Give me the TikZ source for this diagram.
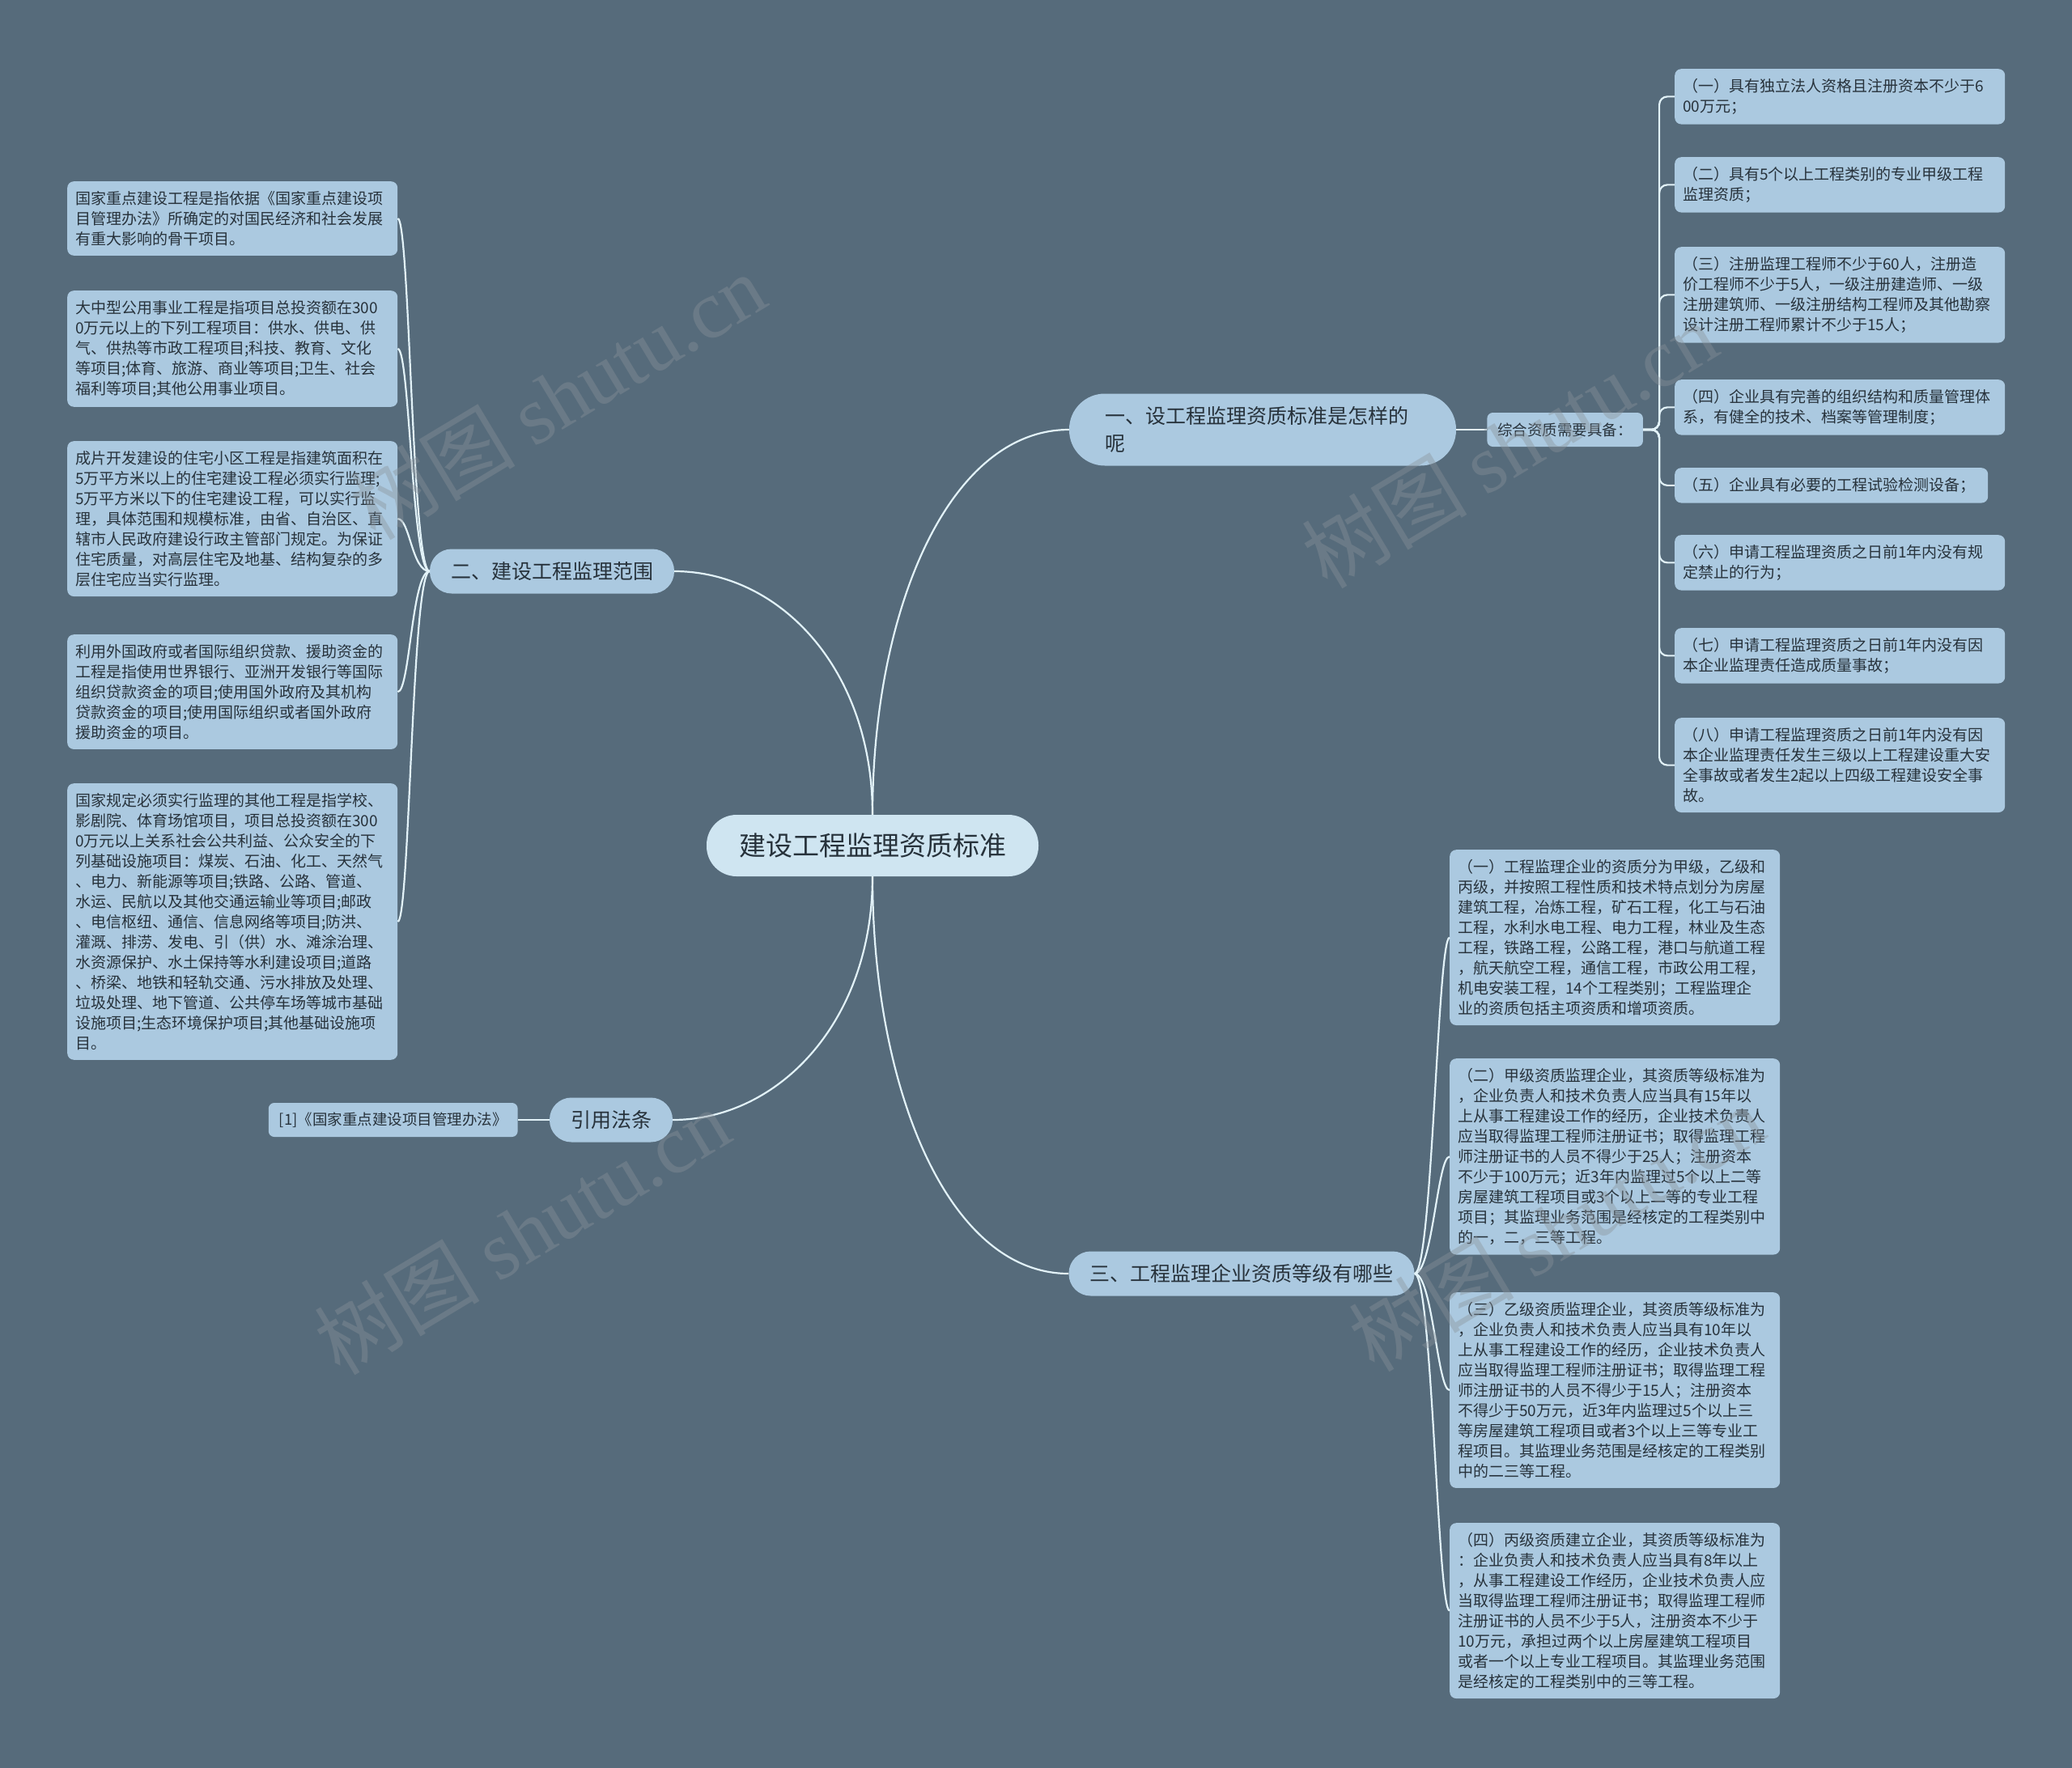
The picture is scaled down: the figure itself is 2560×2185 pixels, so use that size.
\documentclass[tikz,border=0pt]{standalone}
\usepackage{fontspec}
\setmainfont{Noto Sans CJK SC}
\newfontfamily\wmlatin{Liberation Serif}
\usepackage{xcolor}
\usepackage{tikz}
\usetikzlibrary{positioning}
\definecolor{slatebg}{HTML}{566B7B}
\definecolor{boxblue}{HTML}{ABC9E0}
\definecolor{rootblue}{HTML}{CFE5F1}
\definecolor{linkcol}{HTML}{E2F2F8}
\definecolor{inkcol}{HTML}{27323B}
\definecolor{wmgray}{HTML}{8A9299}
\tikzset{
  topic/.style={
    rectangle, rounded corners=37pt,
    fill=rootblue, text=inkcol,
    minimum height=76pt, inner xsep=40pt,
    font=\fontsize{33}{40}\selectfont},
  branch/.style={
    rectangle, rounded corners=27pt,
    fill=boxblue, text=inkcol,
    minimum height=55pt, inner xsep=26pt,
    font=\fontsize{25}{34}\selectfont},
  leaf/.style={
    rectangle, rounded corners=8pt,
    fill=boxblue, text=inkcol,
    text width=#1, align=left,
    inner xsep=10pt, inner ysep=12pt,
    font=\fontsize{19}{25}\selectfont},
  leaf/.default=388pt,
  tag/.style={
    rectangle, rounded corners=7pt,
    fill=boxblue, text=inkcol,
    minimum height=42pt, inner xsep=13pt,
    font=\fontsize{18.5}{22}\selectfont},
  link/.style={draw=linkcol, line width=2.2pt},
  wmark/.style={text=wmgray, opacity=0.4, rotate=31,
    font=\fontsize{102}{110}\selectfont},
}

\begin{document}
\begin{tikzpicture}[x=1pt, y=-1pt]
  \fill[slatebg] (0,0) rectangle (2560,2185);
  \useasboundingbox (0,0) rectangle (2560,2185);

  % centre and main topics
  \node[topic] (root) at (1078,1045) {建设工程监理资质标准};
  \node[branch, text width=390pt, align=left, rounded corners=44pt,
        minimum height=89pt, inner xsep=44pt] (std) at (1560,531)
        {一、设工程监理资质标准是怎样的\\呢};
  \node[branch] (scope) at (682,706) {二、建设工程监理范围};
  \node[branch] (law) at (755,1384) {引用法条};
  \node[branch] (grade) at (1534,1574) {三、工程监理企业资质等级有哪些};

  \node[tag, right=38pt of std] (zh) {综合资质需要具备：};
  \node[tag, left=39pt of law] (cite) {[1]《国家重点建设项目管理办法》};

  % scope leaves
  \node[leaf, anchor=north west] (sc1) at (83,224) {国家重点建设工程是指依据《国家重点建设项\\目管理办法》所确定的对国民经济和社会发展\\有重大影响的骨干项目。};
  \node[leaf, anchor=north west] (sc2) at (83,359) {大中型公用事业工程是指项目总投资额在300\\0万元以上的下列工程项目：供水、供电、供\\气、供热等市政工程项目;科技、教育、文化\\等项目;体育、旅游、商业等项目;卫生、社会\\福利等项目;其他公用事业项目。};
  \node[leaf, anchor=north west] (sc3) at (83,545) {成片开发建设的住宅小区工程是指建筑面积在\\5万平方米以上的住宅建设工程必须实行监理;\\5万平方米以下的住宅建设工程，可以实行监\\理，具体范围和规模标准，由省、自治区、直\\辖市人民政府建设行政主管部门规定。为保证\\住宅质量，对高层住宅及地基、结构复杂的多\\层住宅应当实行监理。};
  \node[leaf, anchor=north west] (sc4) at (83,784) {利用外国政府或者国际组织贷款、援助资金的\\工程是指使用世界银行、亚洲开发银行等国际\\组织贷款资金的项目;使用国外政府及其机构\\贷款资金的项目;使用国际组织或者国外政府\\援助资金的项目。};
  \node[leaf, anchor=north west] (sc5) at (83,968) {国家规定必须实行监理的其他工程是指学校、\\影剧院、体育场馆项目，项目总投资额在300\\0万元以上关系社会公共利益、公众安全的下\\列基础设施项目：煤炭、石油、化工、天然气\\、电力、新能源等项目;铁路、公路、管道、\\水运、民航以及其他交通运输业等项目;邮政\\、电信枢纽、通信、信息网络等项目;防洪、\\灌溉、排涝、发电、引（供）水、滩涂治理、\\水资源保护、水土保持等水利建设项目;道路\\、桥梁、地铁和轻轨交通、污水排放及处理、\\垃圾处理、地下管道、公共停车场等城市基础\\设施项目;生态环境保护项目;其他基础设施项\\目。};

  % qualification leaves
  \node[leaf, anchor=north west] (q1) at (2069,85) {（一）具有独立法人资格且注册资本不少于6\\00万元；};
  \node[leaf, anchor=north west] (q2) at (2069,194) {（二）具有5个以上工程类别的专业甲级工程\\监理资质；};
  \node[leaf, anchor=north west] (q3) at (2069,305) {（三）注册监理工程师不少于60人，注册造\\价工程师不少于5人，一级注册建造师、一级\\注册建筑师、一级注册结构工程师及其他勘察\\设计注册工程师累计不少于15人；};
  \node[leaf, anchor=north west] (q4) at (2069,469) {（四）企业具有完善的组织结构和质量管理体\\系，有健全的技术、档案等管理制度；};
  \node[leaf=367pt, anchor=north west] (q5) at (2069,578) {（五）企业具有必要的工程试验检测设备；};
  \node[leaf, anchor=north west] (q6) at (2069,661) {（六）申请工程监理资质之日前1年内没有规\\定禁止的行为；};
  \node[leaf, anchor=north west] (q7) at (2069,776) {（七）申请工程监理资质之日前1年内没有因\\本企业监理责任造成质量事故；};
  \node[leaf, anchor=north west] (q8) at (2069,887) {（八）申请工程监理资质之日前1年内没有因\\本企业监理责任发生三级以上工程建设重大安\\全事故或者发生2起以上四级工程建设安全事\\故。};

  % grade leaves
  \node[leaf, anchor=north west] (gr1) at (1791,1050) {（一）工程监理企业的资质分为甲级，乙级和\\丙级，并按照工程性质和技术特点划分为房屋\\建筑工程，冶炼工程，矿石工程，化工与石油\\工程，水利水电工程、电力工程，林业及生态\\工程，铁路工程，公路工程，港口与航道工程\\，航天航空工程，通信工程，市政公用工程，\\机电安装工程，14个工程类别；工程监理企\\业的资质包括主项资质和增项资质。};
  \node[leaf, anchor=north west] (gr2) at (1791,1308) {（二）甲级资质监理企业，其资质等级标准为\\，企业负责人和技术负责人应当具有15年以\\上从事工程建设工作的经历，企业技术负责人\\应当取得监理工程师注册证书；取得监理工程\\师注册证书的人员不得少于25人；注册资本\\不少于100万元；近3年内监理过5个以上二等\\房屋建筑工程项目或3个以上二等的专业工程\\项目；其监理业务范围是经核定的工程类别中\\的一，二，三等工程。};
  \node[leaf, anchor=north west] (gr3) at (1791,1597) {（三）乙级资质监理企业，其资质等级标准为\\，企业负责人和技术负责人应当具有10年以\\上从事工程建设工作的经历，企业技术负责人\\应当取得监理工程师注册证书；取得监理工程\\师注册证书的人员不得少于15人；注册资本\\不得少于50万元，近3年内监理过5个以上三\\等房屋建筑工程项目或者3个以上三等专业工\\程项目。其监理业务范围是经核定的工程类别\\中的二三等工程。};
  \node[leaf, anchor=north west] (gr4) at (1791,1882) {（四）丙级资质建立企业，其资质等级标准为\\：企业负责人和技术负责人应当具有8年以上\\，从事工程建设工作经历，企业技术负责人应\\当取得监理工程师注册证书；取得监理工程师\\注册证书的人员不少于5人，注册资本不少于\\10万元，承担过两个以上房屋建筑工程项目\\或者一个以上专业工程项目。其监理业务范围\\是经核定的工程类别中的三等工程。};

  % main curves
  \draw[link] (root.north) .. controls +(0,-250) and +(-150,0) .. (std.west);
  \draw[link] (root.north) .. controls +(0,-180) and +(130,0) .. (scope.east);
  \draw[link] (root.south) .. controls +(0,180) and +(130,0) .. (law.east);
  \draw[link] (root.south) .. controls +(0,260) and +(-150,0) .. (grade.west);

  \draw[link] (std) -- (zh);
  \draw[link] (law) -- (cite);

  % brackets on the left
  \draw[link] (scope.west) .. controls +(-22,0) and +(15,0) .. (sc1.east);
  \draw[link] (scope.west) .. controls +(-22,0) and +(15,0) .. (sc2.east);
  \draw[link] (scope.west) .. controls +(-22,0) and +(15,0) .. (sc3.east);
  \draw[link] (scope.west) .. controls +(-22,0) and +(15,0) .. (sc4.east);
  \draw[link] (scope.west) .. controls +(-22,0) and +(15,0) .. (sc5.east);

  % brackets on the right
  \draw[link, rounded corners=10pt] (zh.east) -- ++(20,0) |- (q1.west);
  \draw[link, rounded corners=10pt] (zh.east) -- ++(20,0) |- (q2.west);
  \draw[link, rounded corners=10pt] (zh.east) -- ++(20,0) |- (q3.west);
  \draw[link, rounded corners=10pt] (zh.east) -- ++(20,0) |- (q4.west);
  \draw[link, rounded corners=10pt] (zh.east) -- ++(20,0) |- (q5.west);
  \draw[link, rounded corners=10pt] (zh.east) -- ++(20,0) |- (q6.west);
  \draw[link, rounded corners=10pt] (zh.east) -- ++(20,0) |- (q7.west);
  \draw[link, rounded corners=10pt] (zh.east) -- ++(20,0) |- (q8.west);

  \draw[link] (grade.east) .. controls +(22,0) and +(-15,0) .. (gr1.west);
  \draw[link] (grade.east) .. controls +(22,0) and +(-15,0) .. (gr2.west);
  \draw[link] (grade.east) .. controls +(22,0) and +(-15,0) .. (gr3.west);
  \draw[link] (grade.east) .. controls +(22,0) and +(-15,0) .. (gr4.west);

  % watermarks
  \node[wmark] (wm1) at (689,490) {树图 {\wmlatin shutu.cn}};
  \node[wmark] (wm2) at (1865,550) {树图 {\wmlatin shutu.cn}};
  \node[wmark] (wm3) at (645,1522) {树图 {\wmlatin shutu.cn}};
  \node[wmark] (wm4) at (1923,1518) {树图 {\wmlatin shutu.cn}};
\end{tikzpicture}
\end{document}
